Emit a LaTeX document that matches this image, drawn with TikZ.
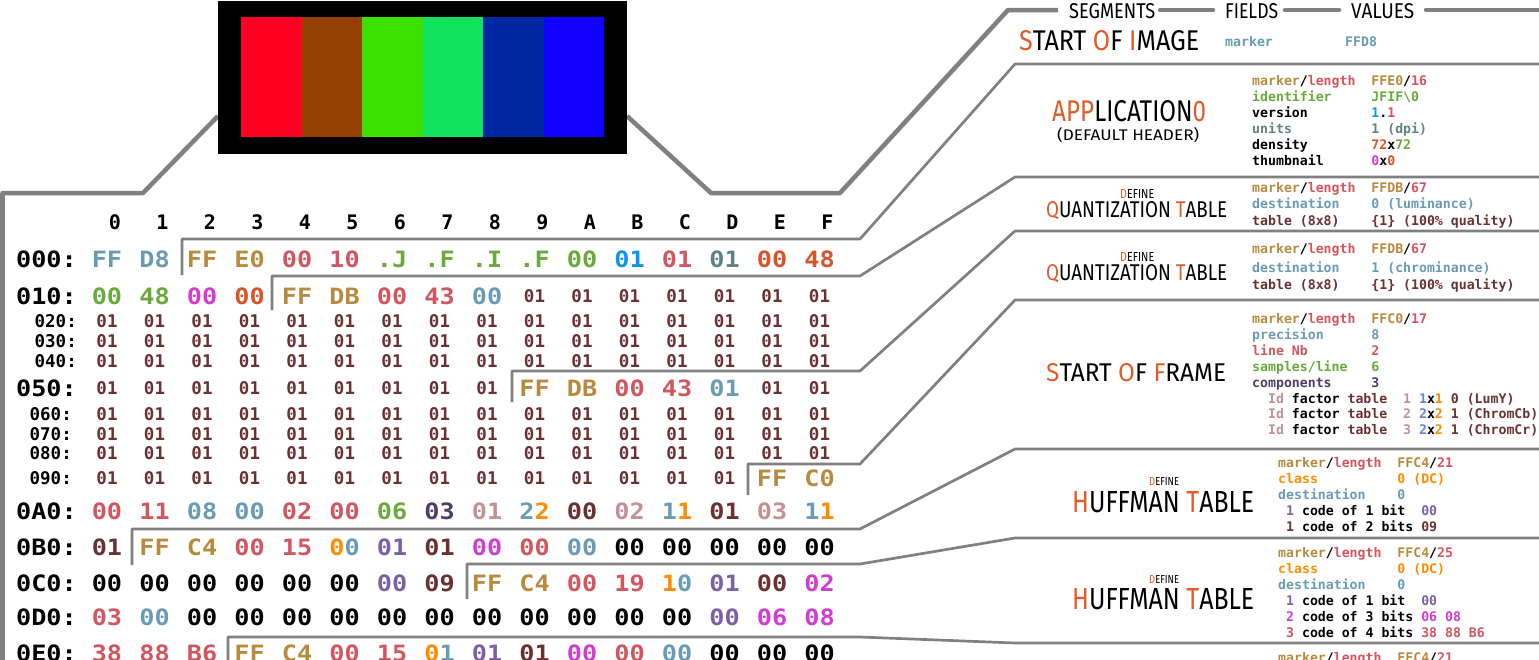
\documentclass[tikz,border=0pt]{standalone}
\usepackage{fontspec}
\usepackage{graphicx}
\newfontfamily\hexfont{DejaVu Sans Mono}
\newfontfamily\hexwide{DejaVu Sans Mono}[FakeStretch=1.12]
\newfontfamily\ttlfont{Fira Sans}
\definecolor{gold}{RGB}{184,138,62}
\definecolor{lred}{RGB}{210,85,95}
\definecolor{grn}{RGB}{105,170,60}
\definecolor{bg}{RGB}{105,155,180}
\definecolor{bbl}{RGB}{10,150,240}
\definecolor{slate}{RGB}{95,130,135}
\definecolor{ored}{RGB}{215,85,40}
\definecolor{mag}{RGB}{210,60,210}
\definecolor{brn}{RGB}{107,48,48}
\definecolor{orng}{RGB}{255,140,0}
\definecolor{pur}{RGB}{125,95,165}
\definecolor{dpur}{RGB}{80,60,105}
\definecolor{pg}{RGB}{195,145,145}
\definecolor{peri}{RGB}{110,130,210}
\definecolor{tor}{RGB}{225,90,40}
\definecolor{lg}{RGB}{128,128,128}
\definecolor{k}{RGB}{0,0,0}
\newcommand\hrow[4]{\foreach \cl/\tx [count=\i from #3] in {#4}{\node[hb,text=\cl] (#1-\i) at ({107+47.5*\i},#2) {\tx};}}
\newcommand\srow[4]{\foreach \i in {#3,...,#4}{\node[hs,text=brn] (#1-\i) at ({107+47.5*\i},#2) {01};}}
\newcommand\OR[1]{\textcolor{tor}{#1}}
\newcommand\mkl[2]{\textcolor{gold}{marker}/\textcolor{lred}{length}~~\textcolor{gold}{#1}/\textcolor{lred}{#2}}
\begin{document}
\begin{tikzpicture}[x=1pt,y=-1pt,
  hb/.style={font=\hexwide\bfseries\fontsize{22.5}{22.5}\selectfont,inner sep=0,text height=16.4pt,text depth=0pt},
  hs/.style={font=\hexfont\bfseries\fontsize{17.5}{17.5}\selectfont,inner sep=0,text height=12.8pt,text depth=0pt},
  hd/.style={font=\hexfont\bfseries\fontsize{20}{20}\selectfont,inner sep=0,text height=14.6pt,text depth=0pt},
  fld/.style={font=\hexfont\bfseries\fontsize{13.2}{13.2}\selectfont,inner sep=0,anchor=base west},
  ttl/.style={font=\ttlfont,inner sep=0,anchor=base west},
  seg/.style={draw=lg,line width=2.7pt,line join=round},
  segt/.style={draw=lg,line width=4.5pt,line join=round}]
\useasboundingbox (0,0) rectangle (1539,659);
% connector lines
\draw[segt] (2.5,670) -- (2.5,193) -- (143,193) -- (218,116);
\draw[segt] (627,116) -- (711,193) -- (840,193) -- (1008,10) -- (1058,10);
\draw[segt,line cap=round] (1160,10) -- (1213,10);
\draw[segt,line cap=round] (1285,10) -- (1339,10);
\draw[segt,line cap=round] (1426,10) -- (1545,10);
\draw[seg] (182,275) -- (182,239) -- (860,239) -- (1015,64) -- (1545,64);
\draw[seg] (272,310) -- (272,276) -- (860,276) -- (1015,177) -- (1545,177);
\draw[seg] (512,402) -- (512,371) -- (860,371) -- (1015,231) -- (1545,231);
\draw[seg] (748,495) -- (748,464) -- (860,464) -- (1015,300) -- (1545,300);
\draw[seg] (132,565) -- (132,529) -- (860,529) -- (1015,449) -- (1545,449);
\draw[seg] (467,599) -- (467,564) -- (860,564) -- (1015,538) -- (1545,538);
\draw[seg] (228,670) -- (228,637) -- (860,637) -- (1015,643) -- (1545,643);
% image
\fill[black] (218,1) rectangle (627,154);
\fill[fill={rgb,255:red,255;green,0;blue,34}] (241,17) rectangle (301.5,137);
\fill[fill={rgb,255:red,147;green,64;blue,0}] (301.5,17) rectangle (362,137);
\fill[fill={rgb,255:red,60;green,225;blue,0}] (362,17) rectangle (422.5,137);
\fill[fill={rgb,255:red,18;green,227;blue,94}] (422.5,17) rectangle (483,137);
\fill[fill={rgb,255:red,0;green,38;blue,163}] (483,17) rectangle (543.5,137);
\fill[fill={rgb,255:red,16;green,0;blue,255}] (543.5,17) rectangle (604,137);
% column header
\foreach \d [count=\i from 0] in {0,1,2,3,4,5,6,7,8,9,A,B,C,D,E,F}
  \node[hd] (col-\i) at ({115+47.5*\i},222) {\d};
% row labels
\node[hb,anchor=east] (l0) at (77,259) {000:};
\node[hb,anchor=east] (l1) at (77,296) {010:};
\node[hs,anchor=east] (l2) at (77,321) {020:};
\node[hs,anchor=east] (l3) at (77,341) {030:};
\node[hs,anchor=east] (l4) at (77,361) {040:};
\node[hb,anchor=east] (l5) at (77,388) {050:};
\node[hs,anchor=east] (l6) at (72,414) {060:};
\node[hs,anchor=east] (l7) at (72,434) {070:};
\node[hs,anchor=east] (l8) at (72,453) {080:};
\node[hs,anchor=east] (l9) at (72,478) {090:};
\node[hb,anchor=east] (lA) at (77,511) {0A0:};
\node[hb,anchor=east] (lB) at (77,547) {0B0:};
\node[hb,anchor=east] (lC) at (77,583) {0C0:};
\node[hb,anchor=east] (lD) at (77,617) {0D0:};
\node[hb,anchor=east] (lE) at (77,653) {0E0:};
% hex rows
\hrow{r0}{259}{0}{bg/FF,bg/D8,gold/FF,gold/E0,lred/00,lred/10,grn/.J,grn/.F,grn/.I,grn/.F,grn/00,bbl/01,lred/01,slate/01,ored/00,ored/48}
\hrow{r1}{296}{0}{grn/00,grn/48,mag/00,ored/00,gold/FF,gold/DB,lred/00,lred/43,bg/00}
\srow{r1}{296}{9}{15}
\srow{r2}{321}{0}{15}
\srow{r3}{341}{0}{15}
\srow{r4}{361}{0}{15}
\srow{r5}{388}{0}{8}
\hrow{r5}{388}{9}{gold/FF,gold/DB,lred/00,lred/43,bg/01}
\srow{r5}{388}{14}{15}
\srow{r6}{414}{0}{15}
\srow{r7}{434}{0}{15}
\srow{r8}{453}{0}{15}
\srow{r9}{478}{0}{13}
\hrow{r9}{478}{14}{gold/FF,gold/C0}
\hrow{rA}{511}{0}{lred/00,lred/11,bg/08,bg/00,lred/02,lred/00,grn/06,dpur/03,pg/01,k/{\textcolor{bg}{2}\textcolor{orng}{2}},brn/00,pg/02,k/{\textcolor{bg}{1}\textcolor{orng}{1}},brn/01,pg/03,k/{\textcolor{bg}{1}\textcolor{orng}{1}}}
\hrow{rB}{547}{0}{brn/01,gold/FF,gold/C4,lred/00,lred/15,k/{\textcolor{orng}{0}\textcolor{bg}{0}},pur/01,brn/01,mag/00,lred/00,bg/00,k/00,k/00,k/00,k/00,k/00}
\hrow{rC}{583}{0}{k/00,k/00,k/00,k/00,k/00,k/00,pur/00,brn/09,gold/FF,gold/C4,lred/00,lred/19,k/{\textcolor{orng}{1}\textcolor{bg}{0}},pur/01,brn/00,mag/02}
\hrow{rD}{617}{0}{lred/03,bg/00,k/00,k/00,k/00,k/00,k/00,k/00,k/00,k/00,k/00,k/00,k/00,pur/00,mag/06,mag/08}
\hrow{rE}{653}{0}{lred/38,lred/88,lred/B6,gold/FF,gold/C4,lred/00,lred/15,k/{\textcolor{orng}{0}\textcolor{bg}{1}},pur/01,brn/01,mag/00,lred/00,bg/00,k/00,k/00,k/00}
% header titles
\node[ttl] (hseg) at (1069,18) {\resizebox{86pt}{15pt}{SEGMENTS}};
\node[ttl] (hfld) at (1225,18) {\resizebox{53pt}{15pt}{FIELDS}};
\node[ttl] (hval) at (1351,18) {\resizebox{63pt}{15pt}{VALUES}};
% SOI
\node[ttl] (soi) at (1019,50) {\resizebox{180pt}{20pt}{\OR{S}TART \OR{O}F \OR{I}MAGE}};
\node[fld,text=bg] (soif) at (1225,46) {marker};
\node[fld,text=bg] (soiv) at (1345,46) {FFD8};
% APP0
\node[ttl] (app) at (1052,121) {\resizebox{154pt}{21pt}{\OR{APP}LICATION\OR{0}}};
\node[ttl] (appd) at (1057,140) {\resizebox{142pt}{13pt}{(DEFAULT HEADER)}};
\node[fld] (a1) at (1252,85) {\mkl{FFE0}{16}};
\node[fld,text=grn] (a2) at (1252,101) {identifier~~~~~JFIF\textbackslash0};
\node[fld] (a3) at (1252,117) {version~~~~~~~~\textcolor{bbl}{1}.\textcolor{lred}{1}};
\node[fld,text=slate] (a4) at (1252,133) {units~~~~~~~~~~1 (dpi)};
\node[fld] (a5) at (1252,149) {density~~~~~~~~\textcolor{ored}{72}x\textcolor{grn}{72}};
\node[fld] (a6) at (1252,165) {thumbnail~~~~~~\textcolor{mag}{0}x\textcolor{ored}{0}};
% DQT 1
\node[ttl] (q1d) at (1120,198) {\resizebox{34pt}{9pt}{\OR{D}EFINE}};
\node[ttl] (q1) at (1046,217) {\resizebox{181pt}{16pt}{\OR{Q}UANTIZATION \OR{T}ABLE}};
\node[fld] (q1a) at (1252,192) {\mkl{FFDB}{67}};
\node[fld,text=bg] (q1b) at (1252,208) {destination~~~~0 (luminance)};
\node[fld,text=brn] (q1c) at (1252,225) {table (8x8)~~~~\{1\} (100\% quality)};
% DQT 2
\node[ttl] (q2d) at (1120,261) {\resizebox{34pt}{9pt}{\OR{D}EFINE}};
\node[ttl] (q2) at (1046,280) {\resizebox{181pt}{16pt}{\OR{Q}UANTIZATION \OR{T}ABLE}};
\node[fld] (q2a) at (1252,253) {\mkl{FFDB}{67}};
\node[fld,text=bg] (q2b) at (1252,272) {destination~~~~1 (chrominance)};
\node[fld,text=brn] (q2c) at (1252,289) {table (8x8)~~~~\{1\} (100\% quality)};
% SOF
\node[ttl] (sof) at (1046,381) {\resizebox{180pt}{18pt}{\OR{S}TART \OR{O}F \OR{F}RAME}};
\node[fld] (f1) at (1252,323) {\mkl{FFC0}{17}};
\node[fld,text=bg] (f2) at (1252,339) {precision~~~~~~8};
\node[fld,text=lred] (f3) at (1252,355) {line Nb~~~~~~~~2};
\node[fld,text=grn] (f4) at (1252,371) {samples/line~~~6};
\node[fld,text=dpur] (f5) at (1252,387) {components~~~~~3};
\node[fld] (f6) at (1252,403) {~~\textcolor{pg}{Id} factor \textcolor{brn}{table}~~\textcolor{pg}{1} \textcolor{peri}{1}x\textcolor{orng}{1} \textcolor{brn}{0 (LumY)}};
\node[fld] (f7) at (1252,418) {~~\textcolor{pg}{Id} factor \textcolor{brn}{table}~~\textcolor{pg}{2} \textcolor{peri}{2}x\textcolor{orng}{2} \textcolor{brn}{1 (ChromCb)}};
\node[fld] (f8) at (1252,434) {~~\textcolor{pg}{Id} factor \textcolor{brn}{table}~~\textcolor{pg}{3} \textcolor{peri}{2}x\textcolor{orng}{2} \textcolor{brn}{1 (ChromCr)}};
% DHT 1
\node[ttl] (h1d) at (1149,485) {\resizebox{30pt}{8pt}{\OR{D}EFINE}};
\node[ttl] (h1) at (1072,512) {\resizebox{182pt}{21pt}{\OR{H}UFFMAN \OR{T}ABLE}};
\node[fld] (h1a) at (1278,467) {\mkl{FFC4}{21}};
\node[fld,text=orng] (h1b) at (1278,483) {class~~~~~~~~~~0 (DC)};
\node[fld,text=bg] (h1c) at (1278,499) {destination~~~~0};
\node[fld] (h1e) at (1278,515) {~\textcolor{pur}{1} code of 1 bit~~\textcolor{pur}{00}};
\node[fld] (h1f) at (1278,531) {~\textcolor{brn}{1} code of 2 bits \textcolor{brn}{09}};
% DHT 2
\node[ttl] (h2d) at (1149,583) {\resizebox{30pt}{8pt}{\OR{D}EFINE}};
\node[ttl] (h2) at (1072,609) {\resizebox{182pt}{21pt}{\OR{H}UFFMAN \OR{T}ABLE}};
\node[fld] (h2a) at (1278,557) {\mkl{FFC4}{25}};
\node[fld,text=orng] (h2b) at (1278,573) {class~~~~~~~~~~0 (DC)};
\node[fld,text=bg] (h2c) at (1278,589) {destination~~~~0};
\node[fld] (h2e) at (1278,605) {~\textcolor{pur}{1} code of 1 bit~~\textcolor{pur}{00}};
\node[fld] (h2f) at (1278,621) {~\textcolor{mag}{2} code of 3 bits \textcolor{mag}{06 08}};
\node[fld] (h2g) at (1278,637) {~\textcolor{lred}{3} code of 4 bits \textcolor{lred}{38 88 B6}};
% DHT 3 (cut by the lower edge, as in the reference)
\node[fld] (h3a) at (1278,662) {\mkl{FFC4}{21}};
\end{tikzpicture}
\end{document}
